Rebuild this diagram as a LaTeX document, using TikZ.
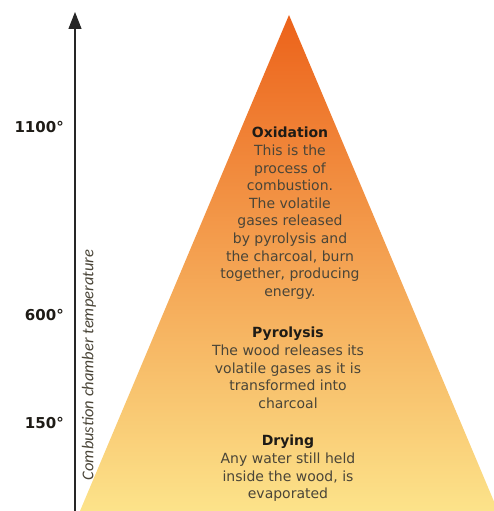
\documentclass[tikz,border=0pt]{standalone}
\usepackage{fontspec}
\setmainfont{DejaVu Sans}
\newfontfamily\labelfont{Carlito}
\usetikzlibrary{arrows.meta}
\definecolor{fireorng}{HTML}{EC621A}
\definecolor{flamemid}{HTML}{F5A22E}
\definecolor{emberylw}{HTML}{FCE38A}
\definecolor{desctext}{HTML}{4A4538}
\definecolor{headtext}{HTML}{1E1B16}

\begin{document}
\begin{tikzpicture}[
    x=1pt, y=-1pt,
    >=Stealth,
    every node/.style={inner sep=0pt},
    stage/.style={
      align=center, anchor=north, text=desctext,
      font=\fontsize{14}{17.6}\selectfont
    },
    templbl/.style={anchor=east, text=headtext,
      font=\fontsize{15}{17}\selectfont\bfseries},
    axisarr/.style={-{Triangle[width=13pt,length=17pt]}, line width=1.2pt, color=black!85},
  ]
  \useasboundingbox (0,0) rectangle (494,511);

  % ============ Pyramid ============
  \coordinate (apex) at (289,15);
  \coordinate (baseL) at (80,511);
  \coordinate (baseR) at (498,511);
  \shade[top color=fireorng, middle color=flamemid, bottom color=emberylw]
    (apex) -- (baseR) -- (baseL) -- cycle;

  % ============ Temperature axis ============
  \coordinate (axbot) at (75,511);
  \coordinate (axtop) at (75,12);
  \draw[axisarr] (axbot) -- (axtop);
  \node[rotate=90, font=\labelfont\itshape\fontsize{16.5}{18}\selectfont, text=desctext]
    (axlbl) at (89,365) {Combustion chamber temperature};

  \node[templbl] (t1100) at (64,127) {1100°};
  \node[templbl] (t600)  at (64,315) {600°};
  \node[templbl] (t150)  at (64,423) {150°};

  % ============ Stages ============
  \node[stage] (oxid) at (290,127) {{\color{headtext}\bfseries Oxidation}\\
    This is the\\ process of\\ combustion.\\ The volatile\\ gases released\\
    by pyrolysis and\\ the charcoal, burn\\ together, producing\\ energy.};
  \node[stage] (pyro) at (288,327) {{\color{headtext}\bfseries Pyrolysis}\\
    The wood releases its\\ volatile gases as it is\\ transformed into\\ charcoal};
  \node[stage] (dry) at (288,435) {{\color{headtext}\bfseries Drying}\\
    Any water still held\\ inside the wood, is\\ evaporated};

\end{tikzpicture}
\end{document}
